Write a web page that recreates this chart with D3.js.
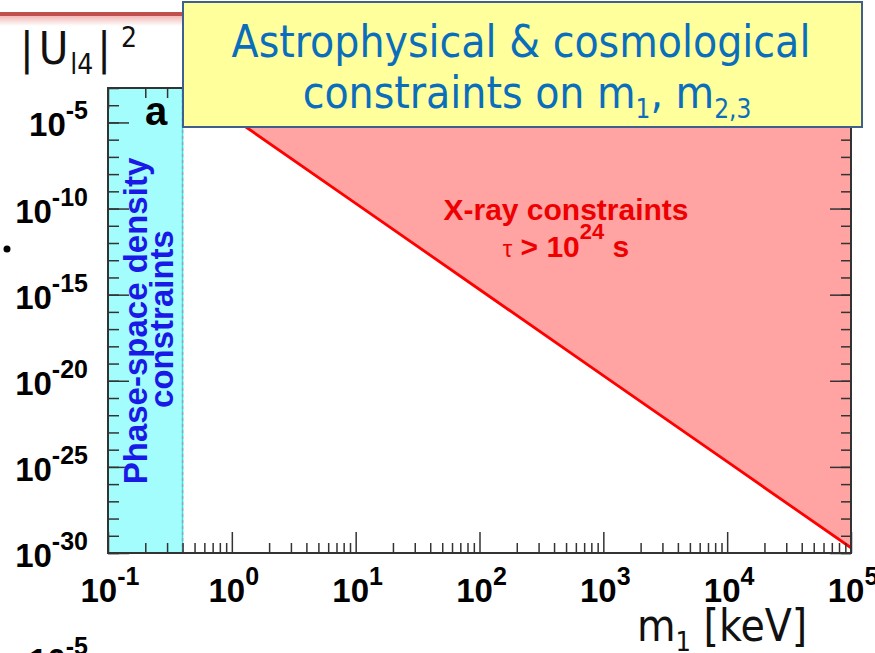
<!DOCTYPE html>
<html>
<head>
<meta charset="utf-8">
<script src="https://cdn.jsdelivr.net/npm/d3@7"></script>
<style>
  html, body { margin: 0; padding: 0; background: #fff; }
  svg { display: block; }
</style>
</head>
<body>
<svg id="chart" width="875" height="653"></svg>
<script>
// Sterile-neutrino mass vs. mixing: astrophysical & cosmological limits
const xDecades = [-1, 0, 1, 2, 3, 4, 5];              // log10(m1 / keV) for labelled ticks
const yDecades = [-30, -25, -20, -15, -10, -5];       // log10 |U|^2 for labelled ticks
const xDomain = [0.1, 1e5];                           // keV
const yDomain = [1e-30, 1e-3];
const phaseSpaceMass = [0.1, 0.4];                    // keV, excluded band
const xrayMass   = [0.4, 1, 10, 100, 1000, 10000, 100000];          // keV
const xrayMixing = [2e-3, 2e-5, 2e-10, 2e-15, 2e-20, 2e-25, 2e-30]; // |U|^2 upper limit

const svg = d3.select("#chart");
const plot = { left: 108, right: 851, top: 88, bottom: 553 };

const x = d3.scaleLog().domain(xDomain).range([plot.left, plot.right]);
const y = d3.scaleLog().domain(yDomain).range([plot.bottom, plot.top]);

// slide decoration: red rule under the header with a soft glow
const defs = svg.append("defs");
const glow = defs.append("linearGradient").attr("id", "glow").attr("x1", 0).attr("y1", 0).attr("x2", 0).attr("y2", 1);
glow.append("stop").attr("offset", 0).attr("stop-color", "#f4b8b8");
glow.append("stop").attr("offset", 1).attr("stop-color", "#ffffff");
svg.append("rect").attr("x", 0).attr("y", 16).attr("width", 190).attr("height", 10).attr("fill", "url(#glow)");
svg.append("rect").attr("x", 0).attr("y", 12).attr("width", 190).attr("height", 4).attr("fill", "#c0504d");

defs.append("clipPath").attr("id", "plotClip")
  .append("rect")
  .attr("x", plot.left).attr("y", plot.top)
  .attr("width", plot.right - plot.left).attr("height", plot.bottom - plot.top);

const area = svg.append("g").attr("clip-path", "url(#plotClip)");

// phase-space density exclusion band
area.append("rect")
  .attr("x", x(phaseSpaceMass[0])).attr("y", plot.top)
  .attr("width", x(phaseSpaceMass[1]) - x(phaseSpaceMass[0]))
  .attr("height", plot.bottom - plot.top)
  .attr("fill", "#a3fdfd");
area.append("line")
  .attr("x1", x(phaseSpaceMass[1])).attr("x2", x(phaseSpaceMass[1]))
  .attr("y1", plot.top).attr("y2", plot.bottom)
  .attr("stroke", "#2ee6ea").attr("stroke-width", 1.5);
area.append("line")
  .attr("x1", x(phaseSpaceMass[1])).attr("x2", x(phaseSpaceMass[1]))
  .attr("y1", plot.top).attr("y2", plot.bottom)
  .attr("stroke", "#9aa8aa").attr("stroke-width", 1.5).attr("stroke-dasharray", "3,3");

// X-ray exclusion: everything above the limit line
const xrayPts = xrayMass.map((m, i) => [m, xrayMixing[i]]);
const fillPts = xrayPts.concat([[xDomain[1], yDomain[1]], [xrayMass[0], yDomain[1]]]);
area.append("path")
  .attr("d", d3.line().x(d => x(d[0])).y(d => y(d[1]))(fillPts) + "Z")
  .attr("fill", "#ffa3a3");
area.append("path")
  .attr("d", d3.line().x(d => x(d[0])).y(d => y(d[1]))(xrayPts))
  .attr("fill", "none").attr("stroke", "#ff0000").attr("stroke-width", 2.8);

// tick values
const xMinor = [];
xDecades.slice(0, -1).forEach(e => { for (let k = 2; k <= 9; k++) xMinor.push(k * Math.pow(10, e)); });
const xMajor = xDecades.map(e => Math.pow(10, e));
const yMinor = d3.range(-30, -2).map(e => Math.pow(10, e));
const yMajor = yDecades.map(e => Math.pow(10, e));

function styleAxis(g) {
  g.select(".domain").remove();
  g.selectAll(".tick line").attr("stroke", "#333").attr("stroke-width", 1.5);
}
function addAxis(axisFn, values, size, transform) {
  svg.append("g").attr("transform", transform)
    .call(axisFn.tickValues(values).tickSize(size).tickFormat(""))
    .call(styleAxis);
}
addAxis(d3.axisBottom(x), xMinor, -10, `translate(0,${plot.bottom})`);
addAxis(d3.axisBottom(x), xMajor, -21, `translate(0,${plot.bottom})`);
addAxis(d3.axisTop(x), xMinor, -10, `translate(0,${plot.top})`);
addAxis(d3.axisTop(x), xMajor, -21, `translate(0,${plot.top})`);
addAxis(d3.axisLeft(y), yMinor, -11, `translate(${plot.left},0)`);
addAxis(d3.axisLeft(y), yMajor, -21, `translate(${plot.left},0)`);
addAxis(d3.axisRight(y), yMinor, -10, `translate(${plot.right},0)`);
addAxis(d3.axisRight(y), yMajor, -21, `translate(${plot.right},0)`);

// frame
svg.append("rect")
  .attr("x", plot.left).attr("y", plot.top)
  .attr("width", plot.right - plot.left).attr("height", plot.bottom - plot.top)
  .attr("fill", "none").attr("stroke", "#333").attr("stroke-width", 2);

// power-of-ten labels
const labelFont = "'Liberation Sans', Arial, Helvetica, sans-serif";
function powLabel(sel, exp) {
  sel.append("tspan").attr("font-size", 33).text("10");
  sel.append("tspan").attr("font-size", 25).attr("dy", -17).text(exp);
}
svg.append("g").selectAll("text").data(xDecades).join("text")
  .attr("x", d => x(Math.pow(10, d)) + 2).attr("y", plot.bottom + 49)
  .attr("text-anchor", "middle").attr("font-family", labelFont).attr("font-weight", "bold")
  .attr("fill", "#000")
  .each(function (d) { powLabel(d3.select(this), d); });
svg.append("g").selectAll("text").data(yDecades).join("text")
  .attr("x", 88).attr("y", d => y(Math.pow(10, d)) + 14)
  .attr("text-anchor", "end").attr("font-family", labelFont).attr("font-weight", "bold")
  .attr("fill", "#000")
  .each(function (d) { powLabel(d3.select(this), d); });
// label of the panel below, cut by the page edge
svg.append("text").attr("x", 88).attr("y", 672)
  .attr("text-anchor", "end").attr("font-family", labelFont).attr("font-weight", "bold")
  .attr("fill", "#000")
  .call(s => powLabel(s, -5));

// panel letter
svg.append("text").attr("x", 145).attr("y", 125)
  .attr("font-family", labelFont).attr("font-weight", "bold").attr("font-size", 40)
  .attr("fill", "#000").text("a");

// region captions
svg.append("text")
  .attr("transform", "translate(147,321) rotate(-90)")
  .attr("text-anchor", "middle").attr("font-family", labelFont).attr("font-weight", "bold")
  .attr("font-size", 33).attr("fill", "#1a1ae6").text("Phase-space density");
svg.append("text")
  .attr("transform", "translate(173,319) rotate(-90)")
  .attr("text-anchor", "middle").attr("font-family", labelFont).attr("font-weight", "bold")
  .attr("font-size", 33).attr("fill", "#1a1ae6").text("constraints");

svg.append("text").attr("x", 566).attr("y", 220)
  .attr("text-anchor", "middle").attr("font-family", labelFont).attr("font-weight", "bold")
  .attr("font-size", 30).attr("fill", "#ee0000").text("X-ray constraints");
const tau = svg.append("text").attr("x", 566).attr("y", 257)
  .attr("text-anchor", "middle").attr("font-family", labelFont).attr("font-weight", "bold")
  .attr("font-size", 30).attr("fill", "#ee0000");
tau.append("tspan").attr("font-size", 24).attr("font-weight", "normal").text("τ");
tau.append("tspan").text(" > 10");
tau.append("tspan").attr("font-size", 22).attr("dy", -18).text("24");
tau.append("tspan").attr("dy", 18).text(" s");

// slide text
const slideFont = "'DejaVu Sans Condensed', 'DejaVu Sans', sans-serif";
const ylab = svg.append("text").attr("x", 20).attr("y", 64)
  .attr("font-family", slideFont).attr("font-size", 45).attr("fill", "#111");
ylab.append("tspan").text("|");
ylab.append("tspan").attr("dx", 5).text("U");
ylab.append("tspan").attr("font-size", 28).attr("dy", 10).attr("dx", 2).text("l4");
ylab.append("tspan").attr("dy", -10).attr("dx", 4).text("|");
ylab.append("tspan").attr("font-size", 28).attr("dy", -17).attr("dx", 10).text("2");

const xlab = svg.append("text").attr("x", 637).attr("y", 641)
  .attr("font-family", slideFont).attr("font-size", 44).attr("fill", "#111");
xlab.append("tspan").text("m");
xlab.append("tspan").attr("font-size", 27).attr("dy", 10).text("1");
xlab.append("tspan").attr("dy", -10).text(" [keV]");

// title box
svg.append("rect").attr("x", 183).attr("y", 2).attr("width", 679).attr("height", 125)
  .attr("fill", "#ffff9c").attr("stroke", "#3f5f8f").attr("stroke-width", 2);
const titleColor = "#0a6ebd";
svg.append("text").attr("x", 521).attr("y", 57)
  .attr("text-anchor", "middle").attr("font-family", slideFont).attr("font-size", 44)
  .attr("fill", titleColor).text("Astrophysical & cosmological");
const t2 = svg.append("text").attr("x", 527).attr("y", 108)
  .attr("text-anchor", "middle").attr("font-family", slideFont).attr("font-size", 44)
  .attr("fill", titleColor);
t2.append("tspan").text("constraints on m");
t2.append("tspan").attr("font-size", 26).attr("dy", 10).text("1");
t2.append("tspan").attr("dy", -10).text(", m");
t2.append("tspan").attr("font-size", 26).attr("dy", 10).text("2,3");

// stray bullet at the left edge
svg.append("circle").attr("cx", 7).attr("cy", 249).attr("r", 3.5).attr("fill", "#000");
</script>
</body>
</html>
